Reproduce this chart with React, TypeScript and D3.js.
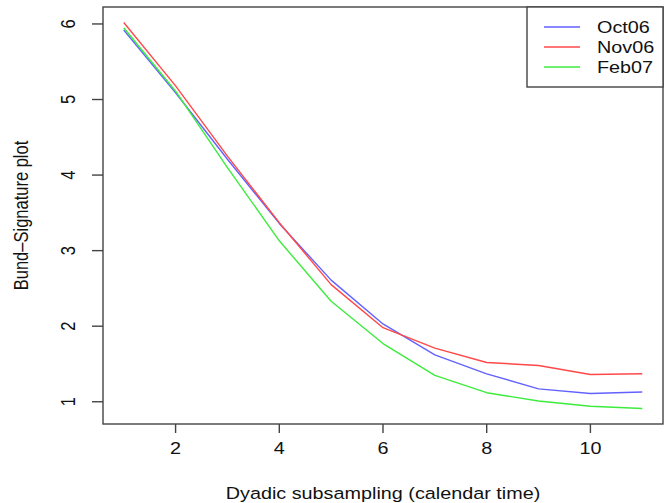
import React, { useRef, useEffect } from 'react'
import * as d3 from 'd3'

const steps = [1, 2, 3, 4, 5, 6, 7, 8, 9, 10, 11]
const oct06 = [5.92, 5.09, 4.21, 3.36, 2.61, 2.03, 1.62, 1.37, 1.17, 1.11, 1.13]
const nov06 = [6.02, 5.18, 4.25, 3.37, 2.55, 1.98, 1.71, 1.52, 1.48, 1.36, 1.37]
const feb07 = [5.95, 5.11, 4.1, 3.13, 2.33, 1.77, 1.35, 1.12, 1.01, 0.94, 0.91]
const seriesNames = ['Oct06', 'Nov06', 'Feb07']
const xTicks = [2, 4, 6, 8, 10]
const yTicks = [1, 2, 3, 4, 5, 6]

export default function App() {
  const ref = useRef<SVGSVGElement>(null)

  const layout = { width: 664, height: 503, left: 103, right: 663, top: 7, bottom: 424 }
  const colorMap: Record<string, string> = { Oct06: '#6262ff', Nov06: '#ff4848', Feb07: '#3cec3c' }
  const font = 'Liberation Sans, Arial, Helvetica, sans-serif'
  const fontSize = 16.5
  const stretch = 1.2 // text in the reference is a bit wider than tall

  useEffect(() => {
    const svg = d3.select(ref.current)
    svg.selectAll('*').remove()

    const series = [oct06, nov06, feb07]
    const allVals = series.flat()
    const xMin = d3.min(steps)!, xMax = d3.max(steps)!
    const yMin = d3.min(allVals)!, yMax = d3.max(allVals)!
    // R style 4% padding
    const xPad = (xMax - xMin) * 0.04
    const yPad = (yMax - yMin) * 0.04

    const xScale = d3.scaleLinear().domain([xMin - xPad, xMax + xPad]).range([layout.left, layout.right])
    const yScale = d3.scaleLinear().domain([yMin - yPad, yMax + yPad]).range([layout.bottom, layout.top])

    const g = svg.append('g')

    // lines
    const line = d3.line<number>()
      .x((d, i) => xScale(steps[i]))
      .y(d => yScale(d))

    series.forEach((vals, k) => {
      g.append('path')
        .datum(vals)
        .attr('d', line)
        .attr('fill', 'none')
        .attr('stroke', colorMap[seriesNames[k]])
        .attr('stroke-width', 1.4)
        .attr('stroke-linejoin', 'round')
    })

    // box
    g.append('rect')
      .attr('x', layout.left)
      .attr('y', layout.top)
      .attr('width', layout.right - layout.left)
      .attr('height', layout.bottom - layout.top)
      .attr('fill', 'none')
      .attr('stroke', '#444')
      .attr('stroke-width', 1.4)

    // x axis ticks
    const xAxis = g.append('g')
    xAxis.selectAll('line')
      .data(xTicks)
      .join('line')
      .attr('x1', d => xScale(d))
      .attr('x2', d => xScale(d))
      .attr('y1', layout.bottom)
      .attr('y2', layout.bottom + 9)
      .attr('stroke', '#444')
      .attr('stroke-width', 1.4)
    xAxis.selectAll('text')
      .data(xTicks)
      .join('text')
      .attr('transform', d => `translate(${xScale(d)}, ${layout.bottom + 30}) scale(${stretch},1)`)
      .attr('text-anchor', 'middle')
      .attr('font-family', font)
      .attr('font-size', fontSize)
      .attr('fill', '#111')
      .text(d => d)

    // y axis ticks
    const yAxis = g.append('g')
    yAxis.selectAll('line')
      .data(yTicks)
      .join('line')
      .attr('x1', layout.left - 11)
      .attr('x2', layout.left)
      .attr('y1', d => yScale(d))
      .attr('y2', d => yScale(d))
      .attr('stroke', '#444')
      .attr('stroke-width', 1.4)
    yAxis.selectAll('text')
      .data(yTicks)
      .join('text')
      .attr('transform', d => `translate(${layout.left - 28}, ${yScale(d)}) scale(${stretch},1) rotate(-90)`)
      .attr('text-anchor', 'middle')
      .attr('font-family', font)
      .attr('font-size', fontSize)
      .attr('fill', '#111')
      .text(d => d)

    // axis titles
    g.append('text')
      .attr('transform', `translate(${(layout.left + layout.right) / 2}, ${layout.bottom + 75}) scale(${stretch},1)`)
      .attr('text-anchor', 'middle')
      .attr('font-family', font)
      .attr('font-size', fontSize)
      .attr('fill', '#111')
      .text('Dyadic subsampling (calendar time)')

    g.append('text')
      .attr('transform', `translate(${28}, ${(layout.top + layout.bottom) / 2}) scale(${stretch},1) rotate(-90)`)
      .attr('text-anchor', 'middle')
      .attr('font-family', font)
      .attr('font-size', fontSize)
      .attr('fill', '#111')
      .text('Bund\u2013Signature plot')

    // legend
    const legend = g.append('g')
    legend.append('rect')
      .attr('x', 527)
      .attr('y', layout.top)
      .attr('width', layout.right - 527)
      .attr('height', 80)
      .attr('fill', 'white')
      .attr('stroke', '#444')
      .attr('stroke-width', 1.4)
    legend.selectAll('.legendLine')
      .data(seriesNames)
      .join('line')
      .attr('class', 'legendLine')
      .attr('x1', 544)
      .attr('x2', 580)
      .attr('y1', (d, i) => 27 + 20 * i)
      .attr('y2', (d, i) => 27 + 20 * i)
      .attr('stroke', d => colorMap[d])
      .attr('stroke-width', 1.4)
    legend.selectAll('.legendText')
      .data(seriesNames)
      .join('text')
      .attr('class', 'legendText')
      .attr('transform', (d, i) => `translate(597, ${27 + 20 * i + 6}) scale(${stretch},1)`)
      .attr('font-family', font)
      .attr('font-size', fontSize)
      .attr('fill', '#111')
      .text(d => d)
  }, [])

  return (
    <svg
      ref={ref}
      width={layout.width}
      height={layout.height}
      style={{ position: 'absolute', left: 0, top: 0, background: 'white' }}
    />
  )
}
